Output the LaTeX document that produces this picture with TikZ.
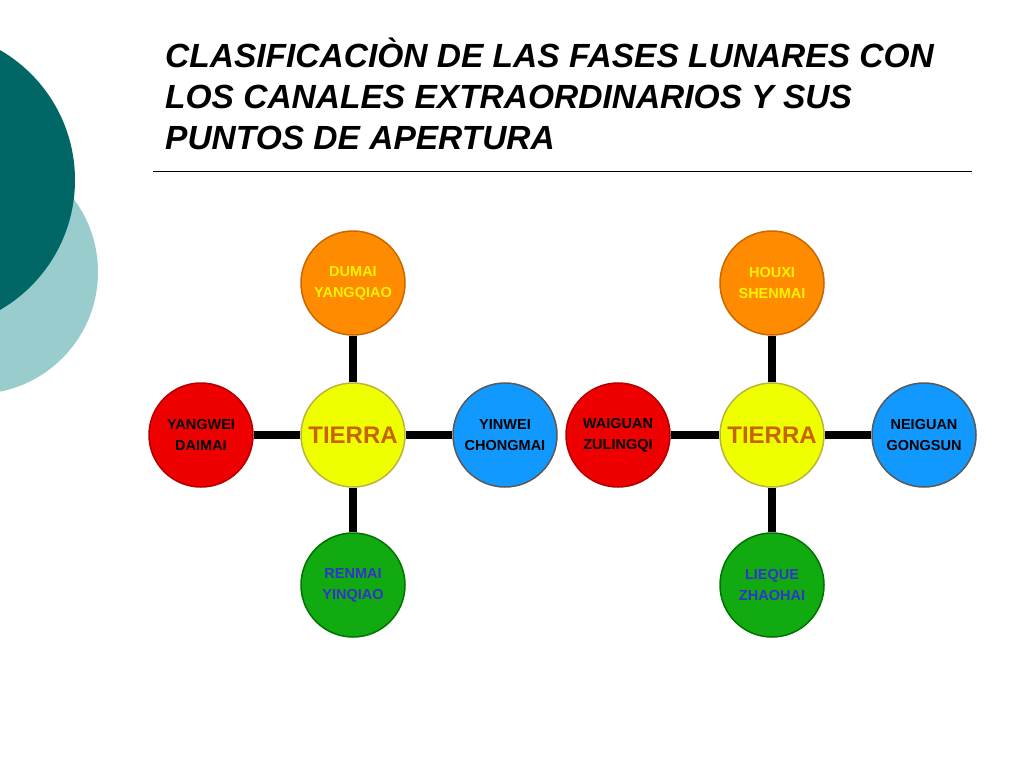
\documentclass[tikz,border=0pt]{standalone}
\usepackage{fontspec}
\setmainfont{Liberation Sans}
\usetikzlibrary{positioning}
\definecolor{tealdark}{RGB}{0,102,102}
\definecolor{teallight}{RGB}{153,204,204}
\definecolor{orfill}{RGB}{255,140,0}
\definecolor{yefill}{RGB}{240,255,0}
\definecolor{refill}{RGB}{238,0,0}
\definecolor{blfill}{RGB}{17,153,255}
\definecolor{grfill}{RGB}{17,170,17}
\definecolor{tierratext}{RGB}{200,100,0}
\definecolor{renblue}{RGB}{51,51,204}
\tikzset{
  phase/.style={circle, minimum size=104pt, inner sep=0pt, line width=1.5pt,
    align=center, font=\bfseries\fontsize{14.5}{21}\selectfont},
  center/.style={phase, fill=yefill, draw=yellow!70!black, text=tierratext,
    font=\bfseries\fontsize{24}{26}\selectfont},
  upper/.style={phase, fill=orfill, draw=orange!80!black, text=yellow},
  leftp/.style={phase, fill=refill, draw=red!70!black, text=black},
  rightp/.style={phase, fill=blfill, draw=black!65, text=black},
  lower/.style={phase, fill=grfill, draw=green!45!black, text=renblue},
  link/.style={line width=8pt, black}
}
\begin{document}
\begin{tikzpicture}[x=1pt, y=-1pt]
  \useasboundingbox (0,0) rectangle (1024,768);
  % background
  \fill[teallight] (-24,272) circle (122);
  \fill[tealdark] (-75,180) circle (150);
  % title
  \node[anchor=north west, align=left, inner sep=0pt, text=black,
    font=\bfseries\itshape\fontsize{33.5}{41}\selectfont] (title) at (165,38)
    {CLASIFICACIÒN DE LAS FASES LUNARES CON\\LOS CANALES EXTRAORDINARIOS Y SUS\\PUNTOS DE APERTURA};
  \draw[line width=1pt] (153,171) -- (972,171);

  % left cluster
  \node[center] (tA) at (353,435) {TIERRA};
  \node[upper] (uA) at (353,283) {DUMAI\\YANGQIAO};
  \node[lower] (dA) at (353,585) {RENMAI\\YINQIAO};
  \node[leftp] (lA) at (201,435) {YANGWEI\\DAIMAI};
  \node[rightp] (rA) at (505,435) {YINWEI\\CHONGMAI};
  \draw[link] (tA) -- (uA);
  \draw[link] (tA) -- (dA);
  \draw[link] (tA) -- (lA);
  \draw[link] (tA) -- (rA);

  % right cluster
  \node[center] (tB) at (772,435) {TIERRA};
  \node[upper] (uB) at (772,283) {HOUXI\\SHENMAI};
  \node[lower] (dB) at (772,585) {LIEQUE\\ZHAOHAI};
  \node[leftp] (lB) at (618,435) {WAIGUAN\\ZULINGQI};
  \node[rightp] (rB) at (924,435) {NEIGUAN\\GONGSUN};
  \draw[link] (tB) -- (uB);
  \draw[link] (tB) -- (dB);
  \draw[link] (tB) -- (lB);
  \draw[link] (tB) -- (rB);
\end{tikzpicture}
\end{document}
